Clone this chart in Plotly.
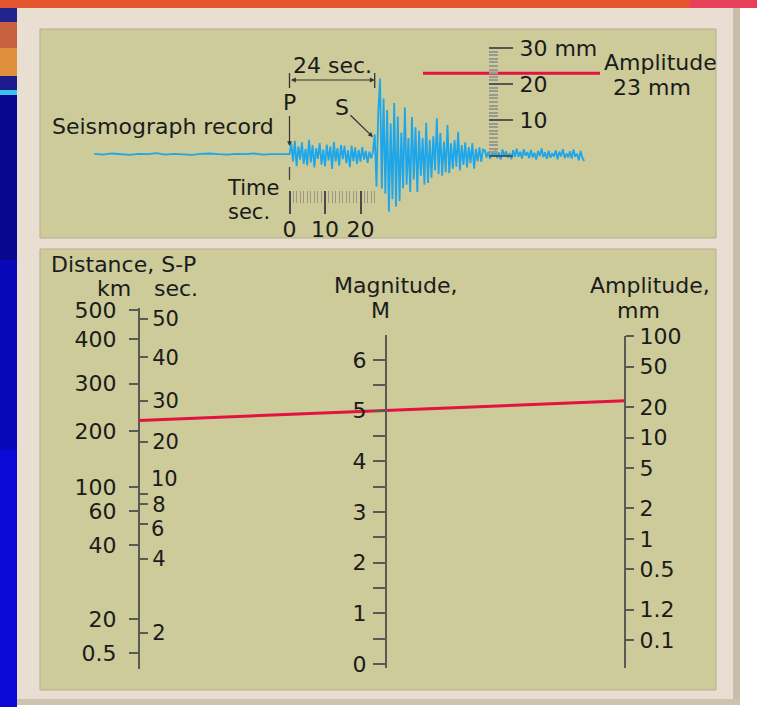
import math
import plotly.graph_objects as go

# ---------------- DATA ----------------
# Seismograph record: amplitude (mm) against time (s) after the P arrival
PRE_T = [-55, -52.5, -50, -47.5, -45, -42.5, -40, -37.5, -35, -32.5, -30, -27.5,
         -25, -22.5, -20, -17.5, -15, -12.5, -10, -7.5, -5, -2.5]
PRE_MM = [0.6, 0.4, 0.7, 0.5, 0.3, 0.6, 0.5, 0.8, 0.4, 0.6, 0.5, 0.3,
          0.6, 0.7, 0.5, 0.4, 0.6, 0.5, 0.7, 0.4, 0.5, 0.6]
TRACE_STEP_S = 0.5
TRACE_MM = [
    # P coda (0 - 23.5 s)
    0.5, 3.5, -1.5, 4.2, -2.8, 2.6, -1.0, 3.8, -2.2, 2.0, -2.6, 4.5,
    -1.8, 3.0, -3.2, 2.2, -0.8, 3.6, -2.4, 1.8, -2.9, 3.2, -1.2, 2.6,
    -3.6, 3.9, -1.5, 2.2, -2.7, 3.0, -0.9, 2.8, -2.0, 1.6, -3.1, 2.9,
    -1.4, 2.4, -2.2, 1.7, -1.6, 2.5, -1.0, 1.4, -1.9, 1.2, -0.6, 1.0,
    # S waves (24 - 54.5 s)
    6.0, -8.5, 12.0, 21.5, -9.0, 16.0, -10.5, 12.8, -15.5, 9.0, -12.0, 14.7,
    -14.0, 11.0, -12.5, 6.5, -9.0, 13.5, -8.0, 5.0, -10.0, 10.8, -6.5, 8.0,
    -10.0, 7.0, -5.5, 5.0, -8.0, 9.2, -7.5, 4.5, -6.0, 5.5, -4.0, 10.5,
    -5.0, 6.4, -5.5, 4.0, -4.5, 8.6, -4.8, 3.5, -3.5, 4.4, -3.0, 6.7,
    -4.0, 3.0, -2.5, 3.8, -3.2, 2.5, -2.0, 3.6, -3.5, 2.0, -1.5, 2.4,
    -1.6, 1.8,
    # tail (55 - 83 s)
    1.6, -0.4, 1.2, -0.8, 0.9, -0.2, 1.5, -0.6, 1.0, -1.0, 1.8, 0.0,
    1.3, -0.5, 0.8, -0.9, 1.6, -0.3, 2.0, -0.2, 1.2, -0.7, 1.9, 0.1,
    1.1, -0.6, 1.7, -0.4, 0.9, -1.0, 1.4, 0.0, 2.1, -0.3, 1.0, -0.8,
    1.5, -0.5, 0.8, -0.2, 1.6, -0.9, 1.2, -0.1, 1.9, -0.6, 0.7, -0.4,
    1.3, -0.7, 1.8, -0.2, 0.6, -1.2, 1.4, -0.5, -1.4,
]
P_TIME = 0
S_TIME = 24
AMPLITUDE_MM = 23
RULER_MAJOR = [0, 10, 20, 30]
RULER_LABELS = ["", "10", "20", "30 mm"]
TIME_MAJOR = [0, 10, 20]
TIME_LABELS = ["0", "10", "20"]
TIME_END = 24

# Nomogram scales (distance / S-P expressed as the -log A0 correction they sit at)
DIST_LABELS = ["500", "400", "300", "200", "100", "60", "40", "20", "0.5"]
DIST_LOGA0 = [4.73, 4.44, 4.00, 3.53, 2.98, 2.74, 2.41, 1.68, 1.34]
SP_LABELS = ["50", "40", "30", "20", "10", "8", "6", "4", "2"]
SP_LOGA0 = [4.64, 4.26, 3.83, 3.43, 2.91, 2.81, 2.62, 2.27, 1.54]
MAG_TICKS = [0, 1, 2, 3, 4, 5, 6]
MAG_MINOR = [0.5, 1.5, 2.5, 3.5, 4.5, 5.5, 6.5]
AMP_TICKS = [100, 50, 20, 10, 5, 2, 1, 0.5, 0.2, 0.1]
AMP_LABELS = ["100", "50", "20", "10", "5", "2", "1", "0.5", "1.2", "0.1"]
MAGNITUDE = 5.0

# ---------------- GEOMETRY / STYLE ----------------
W, H = 757, 707
def px(x): return x / W
def py(y): return 1 - y / H

FONT = "DejaVu Sans"
TXT = "#1b1b1b"
OLIVE = "#cccb99"
AXC = "#5a5a55"
RED = "#e3123e"
TRACE_COL = "#1ea6ea"

# seismogram scale
T0_PX, PX_PER_S = 289.5, 3.55
MM0_PX, PX_PER_MM = 156.0, 3.6
def t_of(xp): return (xp - T0_PX) / PX_PER_S
def mm_of(yp): return (MM0_PX - yp) / PX_PER_MM

# nomogram scale
M0_PX, PX_PER_M, K = 664.0, 50.67, 2.47
def h_of(yp): return (M0_PX - yp) / PX_PER_M

fig = go.Figure()

# ---- seismograph trace ----
trace_t = PRE_T + [P_TIME + i * TRACE_STEP_S for i in range(len(TRACE_MM))]
fig.add_trace(go.Scatter(x=trace_t, y=PRE_MM + TRACE_MM, mode="lines",
                         line=dict(color=TRACE_COL, width=1.8),
                         xaxis="x", yaxis="y", hoverinfo="skip"))
# amplitude reading (red line at 23 mm)
fig.add_trace(go.Scatter(x=[t_of(423), t_of(600)], y=[AMPLITUDE_MM, AMPLITUDE_MM],
                         mode="lines", line=dict(color=RED, width=3),
                         xaxis="x", yaxis="y", hoverinfo="skip"))
# invisible anchors for ruler axes
fig.add_trace(go.Scatter(x=[P_TIME] * len(RULER_MAJOR), y=RULER_MAJOR, mode="markers",
                         marker=dict(opacity=0), xaxis="x", yaxis="y2", hoverinfo="skip"))
fig.add_trace(go.Scatter(x=TIME_MAJOR, y=[0] * len(TIME_MAJOR), mode="markers",
                         marker=dict(opacity=0), xaxis="x2", yaxis="y", hoverinfo="skip"))

# ---- nomogram ----
fig.add_trace(go.Scatter(x=[0] * len(DIST_LOGA0), y=DIST_LOGA0, mode="markers",
                         marker=dict(opacity=0), xaxis="x3", yaxis="y3", hoverinfo="skip"))
fig.add_trace(go.Scatter(x=[0] * len(SP_LOGA0), y=SP_LOGA0, mode="markers",
                         marker=dict(opacity=0), xaxis="x3", yaxis="y4", hoverinfo="skip"))
fig.add_trace(go.Scatter(x=[0.5] * len(MAG_TICKS), y=MAG_TICKS, mode="markers",
                         marker=dict(opacity=0), xaxis="x3", yaxis="y5", hoverinfo="skip"))
fig.add_trace(go.Scatter(x=[1] * len(AMP_TICKS), y=AMP_TICKS, mode="markers",
                         marker=dict(opacity=0), xaxis="x3", yaxis="y6", hoverinfo="skip"))
# red line: distance correction -> magnitude -> amplitude
logA = math.log10(AMPLITUDE_MM)
C_red = MAGNITUDE - logA
fig.add_trace(go.Scatter(x=[0, 1], y=[2 * C_red - K, 2 * logA + K], mode="lines",
                         line=dict(color=RED, width=3), xaxis="x3", yaxis="y5",
                         hoverinfo="skip"))

tickfont = dict(family=FONT, size=22, color=TXT)
spfont = dict(family=FONT, size=21, color=TXT)
hidden = dict(showgrid=False, zeroline=False, showline=False, showticklabels=False,
              ticks="", automargin=False)

seis_xr = [t_of(40), t_of(716)]
seis_yr = [mm_of(238), mm_of(30)]
ruler_minor = [v for v in range(0, 31) if v not in RULER_MAJOR]
time_minor = [v for v in range(0, TIME_END + 1) if v not in TIME_MAJOR]
dist_range = [(h_of(669) + K) / 2, (h_of(308) + K) / 2]
SP_SHIFTED = {"10": 15, "6": -5}   # labels nudged apart where the scale is crowded

fig.update_layout(
    width=W, height=H, margin=dict(l=0, r=0, t=0, b=0, pad=0, autoexpand=False),
    paper_bgcolor="white", plot_bgcolor="rgba(0,0,0,0)",
    showlegend=False, hovermode=False,
    font=dict(family=FONT, size=22, color=TXT),
    xaxis=dict(domain=[px(40), px(716)], range=seis_xr, anchor="y", **hidden),
    yaxis=dict(domain=[py(238), py(30)], range=seis_yr, anchor="x", **hidden),
    xaxis2=dict(overlaying="x", anchor="free", position=py(190), side="bottom",
                range=seis_xr, tickmode="array", tickvals=TIME_MAJOR, ticktext=TIME_LABELS,
                ticks="outside", ticklen=23, tickwidth=1.5, tickcolor="#4a4a4a",
                minor=dict(tickmode="array", tickvals=time_minor, ticks="outside",
                           ticklen=12, tickwidth=1.3, tickcolor="#a09582"),
                showgrid=False, zeroline=False, showline=False, tickfont=tickfont,
                ticklabelstandoff=-3, automargin=False),
    yaxis2=dict(overlaying="y", anchor="free", position=px(488), side="right",
                range=seis_yr, tickmode="array", tickvals=RULER_MAJOR, ticktext=RULER_LABELS,
                ticks="outside", ticklen=24, tickwidth=2, tickcolor="#555",
                minor=dict(tickmode="array", tickvals=ruler_minor, ticks="outside",
                           ticklen=9, tickwidth=1.5, tickcolor="#9a9a90"),
                showgrid=False, zeroline=False, showline=False, tickfont=tickfont,
                ticklabelstandoff=2, automargin=False),
    xaxis3=dict(domain=[px(139), px(625)], range=[0, 1], anchor="y5", **hidden),
    yaxis3=dict(domain=[py(669), py(308)], range=dist_range,
                anchor="free", position=px(139), side="left",
                tickmode="array", tickvals=DIST_LOGA0, ticktext=DIST_LABELS,
                ticks="outside", ticklen=9, tickwidth=1.5, tickcolor=AXC,
                showline=True, linecolor=AXC, linewidth=2,
                showgrid=False, zeroline=False, tickfont=tickfont, ticklabelstandoff=8,
                automargin=False),
    yaxis4=dict(overlaying="y3", anchor="free", position=px(139), side="right",
                range=dist_range,
                tickmode="array", tickvals=SP_LOGA0,
                ticktext=[("" if l in SP_SHIFTED else l) for l in SP_LABELS],
                ticks="outside", ticklen=8, tickwidth=1.5, tickcolor=AXC,
                showline=False, showgrid=False, zeroline=False, tickfont=spfont,
                ticklabelstandoff=0, automargin=False),
    yaxis5=dict(domain=[py(668), py(335)], range=[h_of(668), h_of(335)],
                anchor="free", position=px(386), side="left",
                tickmode="array", tickvals=MAG_TICKS,
                ticks="outside", ticklen=12, tickwidth=1.5, tickcolor=AXC,
                minor=dict(tickmode="array", tickvals=MAG_MINOR, ticks="outside",
                           ticklen=12, tickwidth=1.5, tickcolor=AXC),
                showline=True, linecolor=AXC, linewidth=2,
                showgrid=False, zeroline=False, tickfont=tickfont, ticklabelstandoff=2,
                automargin=False),
    yaxis6=dict(domain=[py(668), py(336)], type="log",
                range=[(h_of(668) - K) / 2, (h_of(336) - K) / 2],
                anchor="free", position=px(625), side="right",
                tickmode="array", tickvals=AMP_TICKS, ticktext=AMP_LABELS,
                ticks="outside", ticklen=8, tickwidth=1.5, tickcolor=AXC,
                showline=True, linecolor=AXC, linewidth=2,
                showgrid=False, zeroline=False, tickfont=tickfont, ticklabelstandoff=1,
                automargin=False),
)

# ---------------- decorative background / frame ----------------
def rect(x0, y0, x1, y1, fill, line=None, lw=0):
    fig.add_shape(type="rect", xref="paper", yref="paper", layer="below",
                  x0=px(x0), x1=px(x1), y0=py(y1), y1=py(y0), fillcolor=fill,
                  line=dict(color=line or fill, width=lw))

rect(0, 0, 757, 8, "#e2552f")
rect(690, 0, 757, 8, "#e6405a")
rect(0, 8, 17, 707, "#0a0ad6")
rect(0, 8, 17, 22, "#22238e")
rect(0, 22, 17, 48, "#c7603e")
rect(0, 48, 17, 76, "#e08f3c")
rect(0, 76, 17, 90, "#1c1c8c")
rect(0, 90, 17, 95, "#3cc0ec")
rect(0, 95, 17, 260, "#07078f")
rect(0, 260, 17, 450, "#0808b8")
rect(17, 8, 740, 705, "#e8dfd2")
rect(733, 8, 740, 705, "#c9bca9")
rect(17, 699, 740, 705, "#cfc3b0")
rect(40, 29, 716, 238, OLIVE, "#b8ad8e", 1)
rect(40, 249, 716, 690, OLIVE, "#b8ad8e", 1)

# dimension bars, P marker
for tt in (P_TIME, S_TIME):
    fig.add_shape(type="line", xref="x", yref="y", x0=tt, x1=tt,
                  y0=mm_of(88), y1=mm_of(73), line=dict(color="#333", width=1.3))
fig.add_shape(type="line", xref="x", yref="y", x0=P_TIME, x1=P_TIME,
              y0=mm_of(180), y1=mm_of(167), line=dict(color="#444", width=1.3))

# ---------------- text ----------------
def note(text, x, y, xanchor="center", size=22, **kw):
    fig.add_annotation(text=text, xref="paper", yref="paper", x=px(x), y=py(y),
                       xanchor=xanchor, yanchor="middle", showarrow=False,
                       font=dict(family=FONT, size=size, color=TXT), **kw)

note("Seismograph record", 50, 127, "left")
note("Time", 225, 188, "left", size=21)
note("sec.", 226, 212, "left", size=21)
note("Amplitude", 602, 63, "left")
note(f"{AMPLITUDE_MM} mm", 652, 87)
note("Distance, S-P", 49, 265, "left")
note("km", 114, 288)
note("sec.", 176, 288)
note("Magnitude,", 396, 285)
note("M", 380, 310)
note("Amplitude,", 650, 285)
note("mm", 638, 310)

# crowded S-P labels, nudged apart
for lab, shift in SP_SHIFTED.items():
    i = SP_LABELS.index(lab)
    fig.add_annotation(text=lab, xref="paper", yref="y4", x=px(149),
                       y=SP_LOGA0[i], yshift=shift, xanchor="left", yanchor="middle",
                       showarrow=False, font=spfont)

# 24 sec. dimension arrow
dim_mm = mm_of(80)
fig.add_annotation(x=S_TIME, y=dim_mm, ax=P_TIME, ay=dim_mm, xref="x", yref="y",
                   axref="x", ayref="y", text="", showarrow=True, arrowhead=2,
                   arrowside="end+start", arrowsize=0.8, arrowwidth=1.2, arrowcolor="#333")
fig.add_annotation(text=f"{S_TIME - P_TIME} sec.", xref="x", yref="y",
                   x=(P_TIME + S_TIME) / 2, y=dim_mm, yshift=15, showarrow=False,
                   font=dict(family=FONT, size=22, color=TXT))
# P and S arrows
fig.add_annotation(text="P", xref="x", yref="y", x=P_TIME, y=mm_of(146),
                   ax=0, ay=-44, showarrow=True, arrowhead=2, arrowsize=0.8,
                   arrowwidth=1.2, arrowcolor="#333",
                   font=dict(family=FONT, size=22, color=TXT))
fig.add_annotation(text="S", xref="x", yref="y", x=S_TIME - 0.5, y=mm_of(137),
                   ax=-31, ay=-30, showarrow=True, arrowhead=2, arrowsize=0.8,
                   arrowwidth=1.2, arrowcolor="#333",
                   font=dict(family=FONT, size=22, color=TXT))

fig.write_html("out.html", config={"displayModeBar": False},
               post_script="document.body.style.margin='0';document.body.style.padding='0';")
